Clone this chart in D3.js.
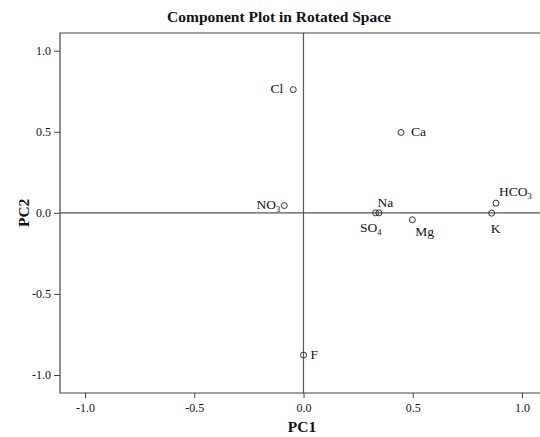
<!DOCTYPE html>
<html><head><meta charset="utf-8">
<script src="https://cdn.jsdelivr.net/npm/d3@7"></script>
<style>body{margin:0;background:#fff}svg{display:block}text{font-family:"Liberation Serif","Times New Roman",serif;fill:#111}</style>
</head><body>
<script>
const names = ["Cl","Ca","NO3","Na","SO4","Mg","K","HCO3","F"];
const pc1 = [-0.047,0.446,-0.088,0.33,0.345,0.498,0.861,0.881,0.0];
const pc2 = [0.76,0.496,0.045,0.0,0.0,-0.043,-0.002,0.06,-0.877];
const xTicks = [-1.0,-0.5,0.0,0.5,1.0];
const yTicks = [1.0,0.5,0.0,-0.5,-1.0];
// label text parts: [base, subscript]
const labelText = {Cl:["Cl",""],Ca:["Ca",""],NO3:["NO","3"],Na:["Na",""],SO4:["SO","4"],Mg:["Mg",""],K:["K",""],HCO3:["HCO","3"],F:["F",""]};
const W=540,H=437, L=60,T=33,R=540,B=393;
const place = {Cl:[-10,3,"end"],Ca:[10,4,"start"],NO3:[-4,3,"end"],Na:[2,-6,"start"],SO4:[-19,19,"start"],Mg:[3,16,"start"],K:[-1,20,"start"],HCO3:[3,-7,"start"],F:[7,4,"start"]};
const svg=d3.select("body").append("svg").attr("width",W).attr("height",H);
const x=d3.scaleLinear().domain([-1.0,1.0]).range([85,522]);
const y=d3.scaleLinear().domain([1.0,-1.0]).range([50.7,375]);
const fmt=d=>d3.format(".1f")(d).replace("\u2212","-");
svg.append("text").attr("x",279).attr("y",22).attr("text-anchor","middle").attr("font-size",15.5).attr("font-weight","bold").text("Component Plot in Rotated Space");
svg.append("path").attr("d",`M${R},${T}H${L}V${B}H${R}`).attr("fill","none").attr("stroke","#444").attr("stroke-width",1.2);
svg.append("line").attr("x1",x(0)).attr("x2",x(0)).attr("y1",T).attr("y2",B).attr("stroke","#555").attr("stroke-width",1.2);
svg.append("line").attr("x1",L).attr("x2",R).attr("y1",y(0)).attr("y2",y(0)).attr("stroke","#555").attr("stroke-width",1.2);
const xa=svg.append("g").attr("transform",`translate(0,${B})`).call(d3.axisBottom(x).tickValues(xTicks).tickFormat(fmt).tickSize(5).tickSizeOuter(0));
const ya=svg.append("g").attr("transform",`translate(${L},0)`).call(d3.axisLeft(y).tickValues(yTicks).tickFormat(fmt).tickSize(6).tickSizeOuter(0));
[xa,ya].forEach(g=>{g.attr("font-family",null);g.select(".domain").remove();g.selectAll("line").attr("stroke","#444");g.selectAll("text").attr("font-family","Liberation Serif").attr("font-size",12).attr("fill","#222");});
xa.selectAll("text").attr("dy","0.95em");
svg.append("text").attr("x",302).attr("y",432).attr("text-anchor","middle").attr("font-size",15.5).attr("font-weight","bold").text("PC1");
svg.append("text").attr("transform",`translate(29,${y(0)}) rotate(-90)`).attr("text-anchor","middle").attr("font-size",15.5).attr("font-weight","bold").text("PC2");
const data=names.map((n,i)=>({n,x:pc1[i],y:pc2[i]}));
svg.selectAll("circle.pt").data(data).join("circle").attr("class","pt").attr("cx",d=>x(d.x)).attr("cy",d=>y(d.y)).attr("r",3).attr("fill","none").attr("stroke","#333").attr("stroke-width",1);
data.forEach(d=>{
  const [b,s]=labelText[d.n]; const [dx,dy,anc]=place[d.n];
  const t=svg.append("text").attr("x",x(d.x)+dx).attr("y",y(d.y)+dy).attr("font-size",13.5).attr("text-anchor",anc);
  t.append("tspan").text(b);
  if(s) t.append("tspan").attr("font-size",8.5).attr("dy",3).text(s);
});
</script>
</body></html>
